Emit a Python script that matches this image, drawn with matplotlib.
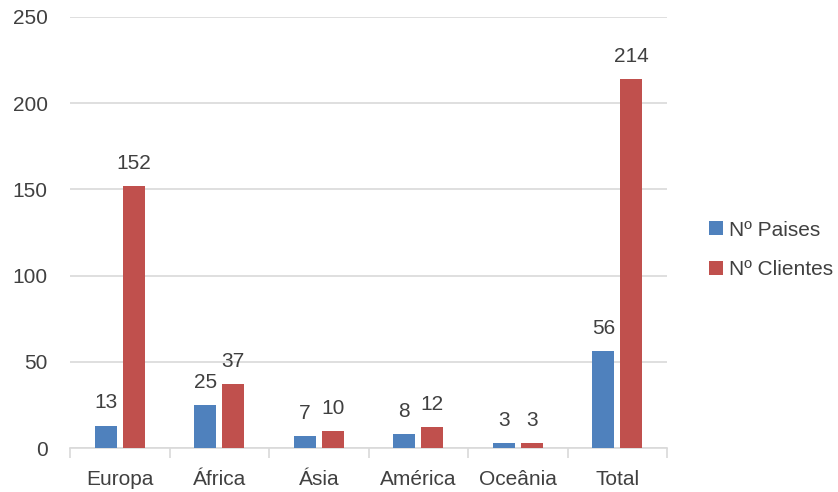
import matplotlib
matplotlib.use("Agg")
import matplotlib.pyplot as plt
import numpy as np

categories = ["Europa", "África", "Ásia", "América", "Oceânia", "Total"]
paises = [13, 25, 7, 8, 3, 56]
clientes = [152, 37, 10, 12, 3, 214]
series_names = ["Nº Paises", "Nº Clientes"]
yticks = [0, 50, 100, 150, 200, 250]

plt.rcParams['font.family'] = ['Liberation Sans', 'DejaVu Sans']
text_color = '#404040'
fs = 15

fig = plt.figure(figsize=(8.38, 4.92), dpi=100)
ax = fig.add_axes([70/838, 1-448/492, (667-70)/838, (448-17)/492])

x = np.arange(len(categories))
w = 0.22
off = 0.14
b1 = ax.bar(x - off, paises, w, color='#4F81BD', label=series_names[0], zorder=3)
b2 = ax.bar(x + off, clientes, w, color='#C0504D', label=series_names[1], zorder=3)

for bars, vals in ((b1, paises), (b2, clientes)):
    for rect, v in zip(bars, vals):
        ax.annotate(str(v), (rect.get_x() + rect.get_width()/2, rect.get_height()),
                    xytext=(0, 9.5), textcoords='offset points', ha='center', va='bottom',
                    fontsize=fs, color=text_color)

ax.set_xlim(-0.5, len(categories) - 0.5)
ax.set_ylim(0, 250)
ax.set_yticks(yticks)
ax.set_yticklabels([str(t) for t in yticks], fontsize=fs, color=text_color)
ax.yaxis.grid(True, color='#D9D9D9', linewidth=1.2, zorder=0)
ax.tick_params(axis='y', length=0, pad=16)

ax.set_xticks(x)
ax.set_xticklabels(categories, fontsize=fs, color=text_color)
ax.set_xticks(np.arange(len(categories) + 1) - 0.5, minor=True)
ax.tick_params(axis='x', which='major', length=0, pad=16)
ax.tick_params(axis='x', which='minor', length=7, width=1.2, color='#D9D9D9')

for s in ['top', 'right', 'left']:
    ax.spines[s].set_visible(False)
ax.spines['bottom'].set_color('#D9D9D9')
ax.spines['bottom'].set_linewidth(1.2)

leg = fig.legend(handles=[b1, b2], labels=series_names, loc='center left',
                 bbox_to_anchor=(709/838, 1-250/492), frameon=False, fontsize=fs,
                 borderpad=0, borderaxespad=0,
                 handlelength=0.67, handleheight=0.67, handletextpad=0.3, labelspacing=1.0)
for t in leg.get_texts():
    t.set_color(text_color)

fig.savefig("out.png", dpi=100)
